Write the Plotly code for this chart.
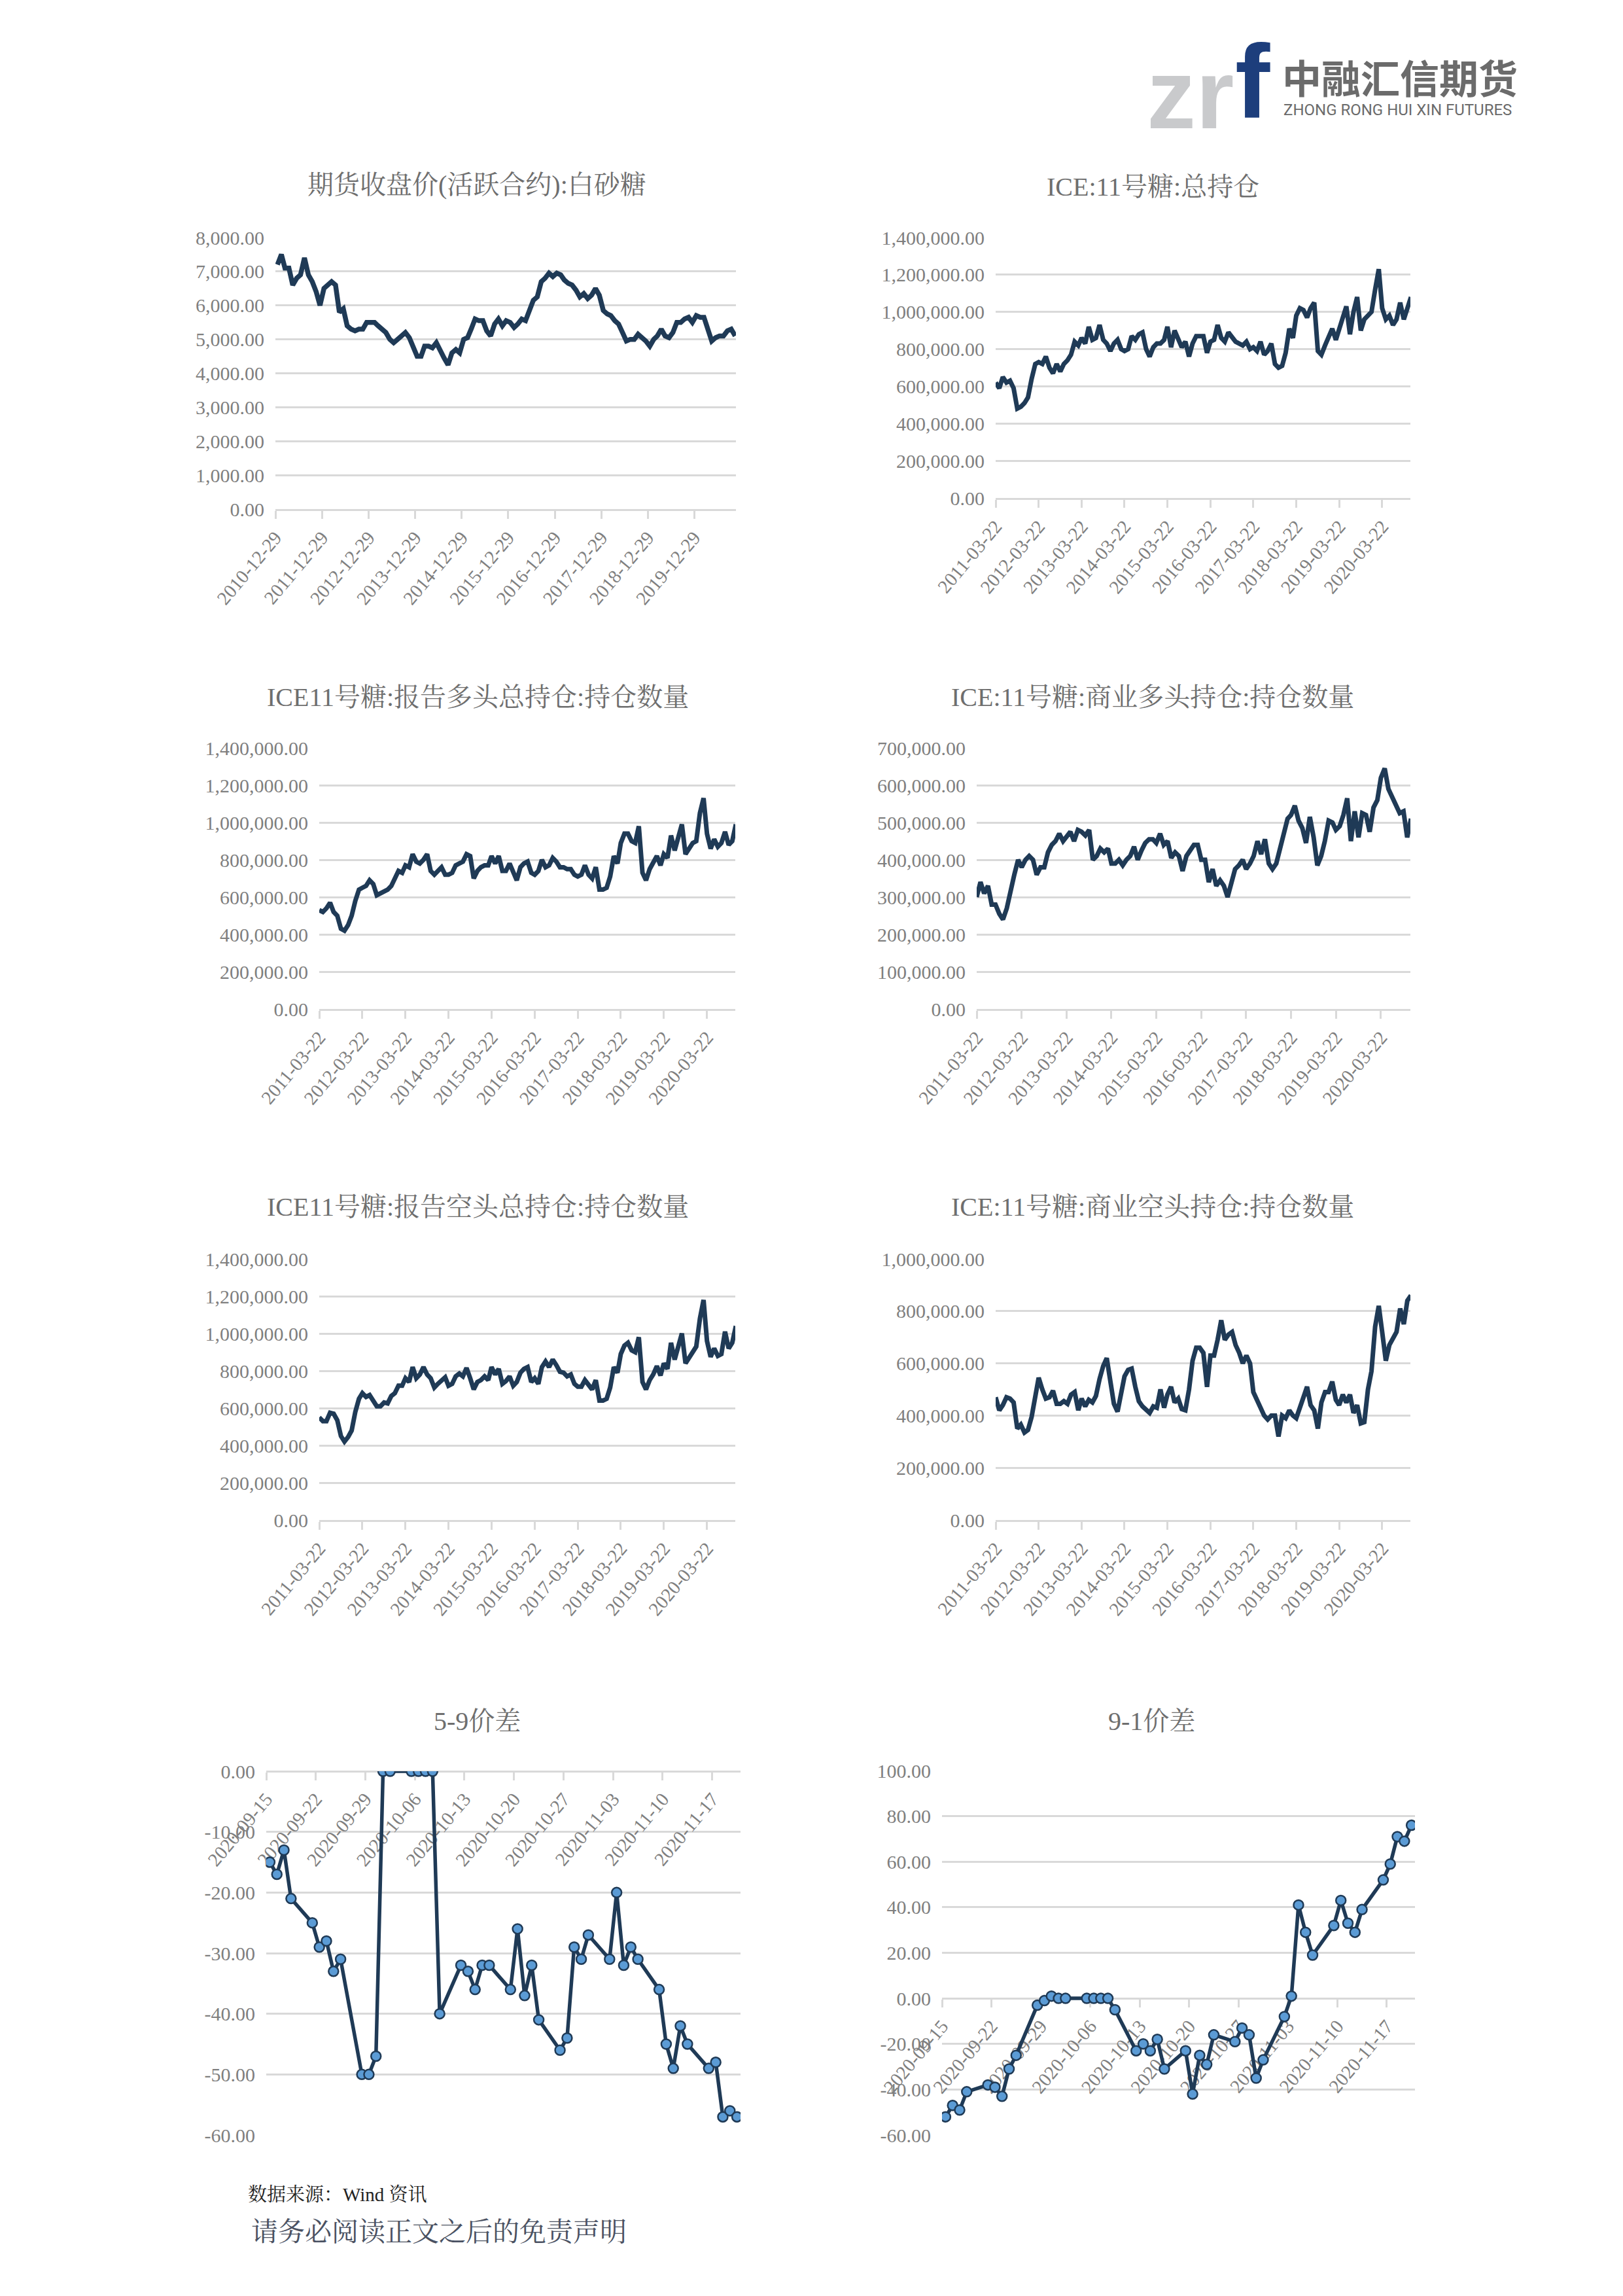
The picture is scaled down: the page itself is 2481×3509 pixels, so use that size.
import pandas as pd
import plotly.graph_objects as go

W, H = 2481, 3509
OFF = 8  # the page body margin shifts the figure by 8 px; positions below compensate

# ---------------- data ----------------
price_start = "2011-01-14"          # monthly samples of the daily series
sugar_price = [
    7200, 7500, 7100, 7100, 6600, 6800, 6900, 7400, 6900, 6700, 6400, 6000,
    6500, 6600, 6700, 6600, 5800, 5900, 5400, 5300, 5250, 5300, 5300, 5500,
    5500, 5500, 5400, 5300, 5200, 5000, 4900, 5000, 5100, 5200, 5050, 4800,
    4500, 4500, 4800, 4800, 4750, 4900, 4650, 4450, 4250, 4600, 4700, 4600,
    5000, 5050, 5300, 5600, 5550, 5550, 5250, 5100, 5450, 5600, 5400, 5550,
    5500, 5350, 5450, 5600, 5550, 5850, 6150, 6250, 6700, 6800, 6950, 6850,
    6950, 6900, 6750, 6650, 6600, 6450, 6250, 6350, 6200, 6300, 6500, 6300,
    5850, 5750, 5700, 5550, 5450, 5200, 4950, 5000, 5000, 5150, 5050, 4950,
    4800, 5000, 5100, 5300, 5100, 5050, 5200, 5500, 5500, 5600, 5650, 5500,
    5700, 5650, 5650, 5250, 4950, 5050, 5100, 5100, 5250, 5300, 5100,
]

oi_start = "2011-03-22"             # monthly samples of the weekly series
total_oi = [
    620000, 590000, 650000, 620000, 630000, 590000, 480000, 490000, 510000, 540000, 640000, 720000,
    730000, 720000, 760000, 700000, 670000, 720000, 680000, 720000, 740000, 770000, 840000, 820000,
    860000, 830000, 920000, 850000, 860000, 930000, 850000, 830000, 790000, 830000, 850000, 800000,
    790000, 800000, 870000, 850000, 880000, 890000, 800000, 760000, 810000, 830000, 830000, 850000,
    920000, 810000, 900000, 860000, 810000, 840000, 760000, 830000, 870000, 870000, 870000, 780000,
    840000, 850000, 930000, 860000, 840000, 890000, 860000, 840000, 830000, 820000, 840000, 800000,
    810000, 790000, 840000, 770000, 790000, 830000, 720000, 700000, 710000, 780000, 910000, 860000,
    980000, 1020000, 1010000, 970000, 1020000, 1050000, 790000, 770000, 820000, 860000, 910000, 850000,
    910000, 960000, 1030000, 880000, 1000000, 1080000, 900000, 960000, 980000, 1000000, 1120000, 1230000,
    1020000, 960000, 980000, 930000, 960000, 1050000, 960000, 1030000, 1080000,
]
long_total = [
    530000, 520000, 540000, 570000, 520000, 500000, 430000, 420000, 450000, 500000, 580000, 640000,
    650000, 660000, 690000, 670000, 610000, 620000, 630000, 640000, 660000, 700000, 740000, 730000,
    770000, 760000, 830000, 790000, 780000, 800000, 830000, 740000, 720000, 740000, 760000, 720000,
    720000, 730000, 770000, 780000, 790000, 830000, 820000, 700000, 740000, 760000, 770000, 770000,
    820000, 780000, 820000, 740000, 740000, 780000, 730000, 690000, 760000, 780000, 790000, 730000,
    720000, 740000, 800000, 760000, 770000, 810000, 790000, 760000, 760000, 750000, 750000, 720000,
    710000, 720000, 770000, 720000, 700000, 760000, 640000, 640000, 650000, 710000, 820000, 780000,
    890000, 940000, 940000, 900000, 890000, 980000, 730000, 690000, 750000, 780000, 820000, 770000,
    830000, 810000, 930000, 850000, 910000, 990000, 830000, 860000, 890000, 900000, 1050000, 1130000,
    940000, 860000, 910000, 870000, 890000, 950000, 880000, 900000, 990000,
]
comm_long = [
    300000, 340000, 310000, 330000, 280000, 280000, 255000, 240000, 270000, 320000, 360000, 400000,
    380000, 400000, 410000, 400000, 360000, 380000, 380000, 420000, 440000, 450000, 470000, 450000,
    460000, 475000, 450000, 480000, 475000, 465000, 480000, 400000, 410000, 430000, 420000, 430000,
    390000, 390000, 400000, 385000, 400000, 410000, 435000, 400000, 425000, 445000, 455000, 455000,
    445000, 470000, 440000, 450000, 405000, 420000, 410000, 370000, 410000, 425000, 440000, 440000,
    400000, 400000, 340000, 375000, 330000, 345000, 330000, 300000, 345000, 375000, 385000, 400000,
    375000, 390000, 410000, 450000, 415000, 455000, 390000, 375000, 390000, 430000, 470000, 510000,
    520000, 545000, 505000, 485000, 445000, 515000, 460000, 385000, 410000, 450000, 505000, 500000,
    480000, 490000, 520000, 565000, 450000, 530000, 460000, 525000, 520000, 475000, 540000, 560000,
    620000, 645000, 590000, 570000, 545000, 525000, 530000, 460000, 510000,
]
short_total = [
    550000, 530000, 530000, 575000, 570000, 535000, 450000, 420000, 445000, 480000, 580000, 650000,
    680000, 660000, 670000, 640000, 610000, 610000, 630000, 625000, 665000, 680000, 720000, 720000,
    760000, 740000, 820000, 760000, 780000, 820000, 780000, 760000, 710000, 730000, 750000, 765000,
    720000, 730000, 770000, 785000, 770000, 815000, 760000, 700000, 740000, 750000, 770000, 750000,
    820000, 780000, 810000, 730000, 745000, 770000, 720000, 740000, 790000, 810000, 820000, 740000,
    760000, 730000, 820000, 850000, 820000, 860000, 830000, 795000, 790000, 770000, 780000, 730000,
    715000, 715000, 750000, 720000, 700000, 750000, 640000, 640000, 650000, 710000, 820000, 790000,
    890000, 935000, 950000, 910000, 900000, 980000, 740000, 700000, 750000, 780000, 825000, 775000,
    840000, 810000, 950000, 860000, 920000, 1000000, 840000, 870000, 900000, 930000, 1080000, 1180000,
    960000, 875000, 920000, 880000, 890000, 1010000, 920000, 950000, 1040000,
]
comm_short = [
    470000, 420000, 440000, 470000, 465000, 450000, 350000, 365000, 335000, 345000, 395000, 480000,
    545000, 500000, 465000, 470000, 495000, 445000, 445000, 455000, 445000, 480000, 490000, 420000,
    465000, 435000, 460000, 450000, 475000, 540000, 590000, 620000, 530000, 445000, 415000, 490000,
    550000, 575000, 580000, 510000, 455000, 435000, 420000, 410000, 435000, 430000, 500000, 430000,
    480000, 510000, 450000, 465000, 425000, 420000, 500000, 610000, 660000, 660000, 640000, 510000,
    630000, 630000, 690000, 765000, 690000, 710000, 720000, 670000, 640000, 600000, 630000, 600000,
    490000, 460000, 425000, 400000, 385000, 400000, 400000, 320000, 400000, 390000, 420000, 400000,
    390000, 430000, 470000, 510000, 440000, 420000, 350000, 450000, 490000, 490000, 530000, 460000,
    440000, 480000, 450000, 480000, 410000, 440000, 370000, 375000, 500000, 570000, 740000, 820000,
    720000, 610000, 670000, 700000, 720000, 810000, 750000, 840000, 860000,
]

spread_dates = [
    "2020-09-15", "2020-09-16", "2020-09-17", "2020-09-18",
    "2020-09-21", "2020-09-22", "2020-09-23", "2020-09-24", "2020-09-25",
    "2020-09-28", "2020-09-29", "2020-09-30", "2020-10-01", "2020-10-02",
    "2020-10-05", "2020-10-06", "2020-10-07", "2020-10-08", "2020-10-09",
    "2020-10-12", "2020-10-13", "2020-10-14", "2020-10-15", "2020-10-16",
    "2020-10-19", "2020-10-20", "2020-10-21", "2020-10-22", "2020-10-23",
    "2020-10-26", "2020-10-27", "2020-10-28", "2020-10-29", "2020-10-30",
    "2020-11-02", "2020-11-03", "2020-11-04", "2020-11-05", "2020-11-06",
    "2020-11-09", "2020-11-10", "2020-11-11", "2020-11-12", "2020-11-13",
    "2020-11-16", "2020-11-17", "2020-11-18", "2020-11-19", "2020-11-20",
]
spread_5_9 = [
    -15, -17, -13, -21,
    -25, -29, -28, -33, -31,
    -50, -50, -47, 0, 0,
    0, 0, 0, 0, -40,
    -32, -33, -36, -32, -32,
    -36, -26, -37, -32, -41,
    -46, -44, -29, -31, -27,
    -31, -20, -32, -29, -31,
    -36, -45, -49, -42, -45,
    -49, -48, -57, -56, -57,
]
spread_9_1 = [
    -52, -47, -49, -41,
    -38, -39, -43, -31, -25,
    -3, -1, 1, 0, 0,
    0, 0, 0, 0, -5,
    -23, -20, -23, -18, -31,
    -23, -42, -25, -29, -16,
    -19, -13, -16, -35, -27,
    -8, 1, 41, 29, 19,
    32, 43, 33, 29, 39,
    52, 59, 71, 69, 76,
]

titles = [
    "期货收盘价(活跃合约):白砂糖", "ICE:11号糖:总持仓",
    "ICE11号糖:报告多头总持仓:持仓数量", "ICE:11号糖:商业多头持仓:持仓数量",
    "ICE11号糖:报告空头总持仓:持仓数量", "ICE:11号糖:商业空头持仓:持仓数量",
    "5-9价差", "9-1价差",
]
y_ticks = [
    list(range(0, 8001, 1000)),
    list(range(0, 1400001, 200000)),
    list(range(0, 1400001, 200000)),
    list(range(0, 700001, 100000)),
    list(range(0, 1400001, 200000)),
    list(range(0, 1000001, 200000)),
    list(range(-60, 1, 10)),
    list(range(-60, 101, 20)),
]
price_ticks = pd.date_range("2010-12-29", periods=10, freq=pd.DateOffset(years=1))
oi_ticks = pd.date_range("2011-03-22", periods=10, freq=pd.DateOffset(years=1))
spread_ticks = pd.date_range("2020-09-15", periods=10, freq="7D")
price_range = ["2010-12-29", "2020-11-20"]
oi_range = ["2011-03-22", "2020-11-17"]
spread_range = ["2020-09-15", "2020-11-21"]

# ---------------- styling ----------------
LINE = "#1F3A56"
MARK = "#5B9BD5"
GRID = "#D9D9D9"
TICK = "#7F7F7F"
TITLE_C = "#6E6E6E"
NUM_FONT = "Liberation Serif, Noto Serif CJK SC, Noto Sans CJK SC, serif"

# plot-area boxes in page pixels: left, top, right, bottom
boxes = [
    (421, 363, 1125, 778), (1522, 363, 2156, 761),
    (488, 1143, 1124, 1542), (1493, 1143, 2156, 1542),
    (488, 1924, 1124, 2323), (1522, 1924, 2156, 2323),
    (407, 2707, 1132, 3263), (1440, 2706, 2163, 3263),
]
title_pos = [(729, 283), (1762, 285), (730, 1065), (1762, 1065),
             (730, 1845), (1762, 1845), (729, 2630), (1761, 2630)]


def px(x):
    return (x - OFF) / W


def py(y):
    return 1 - (y - OFF) / H


def dom(b):
    l, t, r, btm = b
    return [px(l), px(r)], [py(btm), py(t)]


fig = go.Figure()

price_x = pd.date_range(price_start, periods=len(sugar_price), freq=pd.DateOffset(months=1))
oi_x = pd.date_range(oi_start, periods=len(total_oi), freq=pd.DateOffset(months=1))
spread_x = pd.to_datetime(spread_dates) + pd.Timedelta(hours=12)

series = [
    (price_x, sugar_price), (oi_x, total_oi), (oi_x, long_total),
    (oi_x, comm_long), (oi_x, short_total), (oi_x, comm_short),
]
for i, (xs, ys) in enumerate(series):
    n = "" if i == 0 else str(i + 1)
    fig.add_trace(go.Scatter(
        x=xs, y=ys, mode="lines", xaxis="x" + n, yaxis="y" + n,
        line=dict(color=LINE, width=7.5 if i == 0 else 7), showlegend=False, hoverinfo="skip"))

for i, ys in ((6, spread_5_9), (7, spread_9_1)):
    n = str(i + 1)
    fig.add_trace(go.Scatter(
        x=spread_x, y=ys, mode="lines+markers", xaxis="x" + n, yaxis="y" + n,
        line=dict(color=LINE, width=5.5),
        marker=dict(size=15, color=MARK, line=dict(color=LINE, width=2.5)),
        showlegend=False, hoverinfo="skip"))

layout = dict(
    width=W, height=H, margin=dict(l=0, r=0, t=0, b=0, autoexpand=False),
    paper_bgcolor="white", plot_bgcolor="white", showlegend=False,
)
annotations = []
for i, b in enumerate(boxes):
    n = "" if i == 0 else str(i + 1)
    dx, dy = dom(b)
    if i == 0:
        xt, xr = price_ticks, price_range
    elif i < 6:
        xt, xr = oi_ticks, oi_range
    else:
        xt, xr = spread_ticks, spread_range
    xa = dict(
        domain=dx, anchor="y" + n, type="date", range=xr, automargin=False,
        tickvals=list(xt), ticktext=[d.strftime("%Y-%m-%d") for d in xt],
        tickangle=-50, ticks="outside", ticklen=12, tickwidth=3, tickcolor=GRID,
        showline=True, linecolor=GRID, linewidth=3, showgrid=False, zeroline=False,
        tickfont=dict(family=NUM_FONT, size=29, color=TICK), layer="below traces",
    )
    yt = y_ticks[i]
    if i == 6:
        xa.update(anchor="free", position=dy[1])
    elif i == 7:
        frac = (0 - yt[0]) / (yt[-1] - yt[0])
        xa.update(anchor="free", position=dy[0] + frac * (dy[1] - dy[0]))
    ya = dict(
        domain=dy, anchor="x" + n, range=[yt[0], yt[-1]], automargin=False,
        tickvals=yt, ticktext=[f"{v:,.2f}" for v in yt],
        showgrid=True, gridcolor=GRID, gridwidth=3, zeroline=False, showline=False,
        ticks="", ticklabelstandoff=16,
        tickfont=dict(family=NUM_FONT, size=30, color=TICK),
    )
    layout["xaxis" + n] = xa
    layout["yaxis" + n] = ya
    cx, cy = title_pos[i]
    annotations.append(dict(
        text=titles[i], x=px(cx), y=py(cy), xref="paper", yref="paper",
        showarrow=False, xanchor="center", yanchor="middle",
        font=dict(family=NUM_FONT, size=40, color=TITLE_C)))

# logo
annotations += [
    dict(text="<b>zr</b>", x=px(1888), y=py(144), xref="paper", yref="paper",
         showarrow=False, xanchor="right", yanchor="middle",
         font=dict(family="Liberation Sans, Arial", size=150, color="#C9CACC")),
    dict(text="<b>f</b>", x=px(1886), y=py(124), xref="paper", yref="paper",
         showarrow=False, xanchor="left", yanchor="middle",
         font=dict(family="Liberation Sans, Arial", size=160, color="#1D3E7C")),
    dict(text="<b>中融汇信期货</b>", x=px(1958), y=py(117), xref="paper", yref="paper",
         showarrow=False, xanchor="left", yanchor="middle",
         font=dict(family="Noto Sans CJK SC", size=60, color="#6B6B6B")),
    dict(text="ZHONG RONG HUI XIN FUTURES", x=px(1960), y=py(168), xref="paper", yref="paper",
         showarrow=False, xanchor="left", yanchor="middle",
         font=dict(family="Roboto, Liberation Sans", size=24, color="#6B6B6B")),
]
# footer
annotations += [
    dict(text="数据来源：Wind 资讯", x=px(377), y=py(3354), xref="paper", yref="paper",
         showarrow=False, xanchor="left", yanchor="middle",
         font=dict(family=NUM_FONT, size=29, color="#222222")),
    dict(text="请务必阅读正文之后的免责声明", x=px(382), y=py(3411), xref="paper", yref="paper",
         showarrow=False, xanchor="left", yanchor="middle",
         font=dict(family=NUM_FONT, size=41, color="#4A5162")),
]
layout["annotations"] = annotations
fig.update_layout(**layout)
fig.write_html("out.html")
